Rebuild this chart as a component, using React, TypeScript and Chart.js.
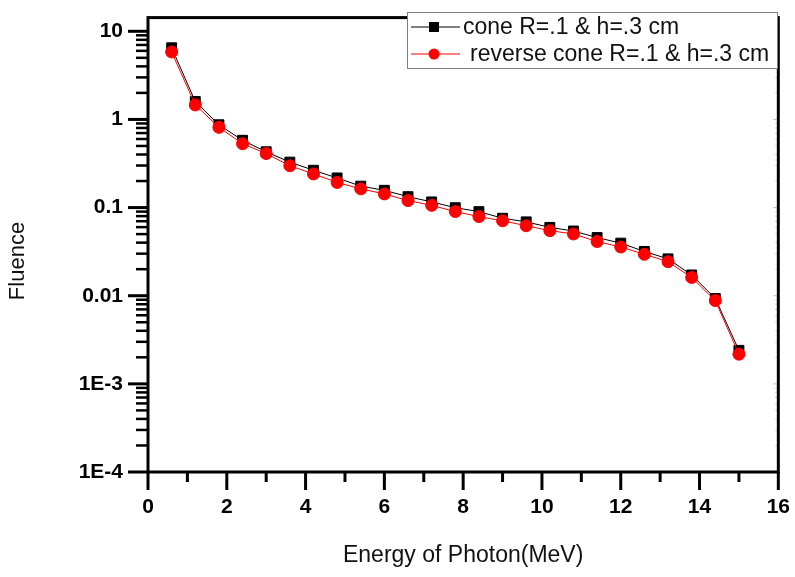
import React, { useEffect, useRef } from "react";
import { Chart, registerables } from "chart.js";

Chart.register(...registerables);

const energies = [0.6, 1.2, 1.8, 2.4, 3.0, 3.6, 4.2, 4.8, 5.4, 6.0, 6.6, 7.2, 7.8, 8.4, 9.0, 9.6, 10.2, 10.8, 11.4, 12.0, 12.6, 13.2, 13.8, 14.4, 15.0];
const coneFluence = [6.5, 1.6, 0.87, 0.58, 0.43, 0.328, 0.265, 0.217, 0.175, 0.157, 0.133, 0.116, 0.0997, 0.09, 0.0757, 0.0689, 0.0596, 0.0542, 0.0457, 0.0395, 0.0318, 0.0262, 0.0172, 0.0093, 0.0024];
const reverseConeFluence = [5.83, 1.46, 0.813, 0.53, 0.41, 0.298, 0.241, 0.193, 0.163, 0.143, 0.12, 0.106, 0.09, 0.079, 0.0708, 0.0622, 0.0547, 0.0502, 0.0412, 0.0357, 0.0295, 0.0243, 0.0161, 0.0088, 0.00217];

const seriesLabels = ["cone R=.1 & h=.3 cm", "reverse cone R=.1 & h=.3 cm"];
const seriesColors = ["#000000", "#ff0000"];

const xMin = 0;
const xMax = 16;
const xMajorStep = 2;
const yMin = 1e-4;
const yMax = 14.3;
const yTickValues = [1e-4, 1e-3, 0.01, 0.1, 1, 10];
const yTickLabels = ["1E-4", "1E-3", "0.01", "0.1", "1", "10"];

const xTitle = "Energy of Photon(MeV)";
const yTitle = "Fluence";

const FONT = "'Liberation Sans', Arial, Helvetica, sans-serif";

const framePlugin = {
  id: "originFrame",
  afterDraw(chart: any) {
    const { ctx, chartArea, scales } = chart;
    const { left, right, top, bottom } = chartArea;
    const xs = scales.x;
    const ys = scales.y;
    ctx.save();
    ctx.strokeStyle = "#000";
    ctx.lineCap = "butt";

    // x ticks (major + minor), outward
    for (let v = xMin; v <= xMax; v += 1) {
      const px = xs.getPixelForValue(v);
      const major = v % xMajorStep === 0;
      ctx.lineWidth = 3;
      ctx.beginPath();
      ctx.moveTo(px, bottom);
      ctx.lineTo(px, bottom + (major ? 18 : 10));
      ctx.stroke();
    }

    // y ticks (log major + minor), outward; faint inward on right
    for (let n = -4; n <= 1; n++) {
      for (let k = 1; k <= 9; k++) {
        const val = k * Math.pow(10, n);
        if (val < yMin * 0.999 || val > yMax) continue;
        const py = ys.getPixelForValue(val);
        ctx.strokeStyle = "#000";
        ctx.lineWidth = k === 1 ? 3 : 2.5;
        ctx.beginPath();
        ctx.moveTo(left, py);
        ctx.lineTo(left - (k === 1 ? 20 : 12), py);
        ctx.stroke();
        ctx.strokeStyle = "rgba(0,0,0,0.25)";
        ctx.lineWidth = 1;
        ctx.beginPath();
        ctx.moveTo(right, py);
        ctx.lineTo(right - (k === 1 ? 5 : 3), py);
        ctx.stroke();
      }
    }

    // frame
    ctx.strokeStyle = "#000";
    ctx.lineWidth = 3;
    ctx.strokeRect(left, top, right - left, bottom - top);

    // y title
    ctx.fillStyle = "#111";
    ctx.font = `22px ${FONT}`;
    ctx.textAlign = "center";
    ctx.textBaseline = "middle";
    ctx.save();
    ctx.translate(18, 261);
    ctx.rotate(-Math.PI / 2);
    ctx.fillText(yTitle, 0, 0);
    ctx.restore();

    // legend
    const lx = 407.5;
    const ly = 12.5;
    const lw = 370;
    const lh = 56;
    ctx.fillStyle = "#fff";
    ctx.fillRect(lx, ly, lw, lh);
    ctx.strokeStyle = "#808080";
    ctx.lineWidth = 1;
    ctx.strokeRect(lx, ly, lw, lh);
    const rows = [27, 54];
    const textX = [463, 470];
    rows.forEach((ry, i) => {
      const color = seriesColors[i];
      ctx.strokeStyle = color;
      ctx.lineWidth = 1;
      ctx.beginPath();
      ctx.moveTo(411, ry);
      ctx.lineTo(460, ry);
      ctx.stroke();
      ctx.fillStyle = color;
      if (i === 0) {
        ctx.fillRect(429, ry - 5, 10, 10);
      } else {
        ctx.beginPath();
        ctx.arc(434, ry, 5.5, 0, Math.PI * 2);
        ctx.fill();
      }
      ctx.fillStyle = "#111";
      ctx.font = `23px ${FONT}`;
      ctx.textAlign = "left";
      ctx.textBaseline = "middle";
      ctx.fillText(seriesLabels[i], textX[i], ry + 1);
    });

    ctx.restore();
  },
};

export default function App() {
  const canvasRef = useRef<HTMLCanvasElement>(null);

  useEffect(() => {
    const canvas = canvasRef.current;
    if (!canvas) return;
    const chart = new Chart(canvas, {
      type: "line",
      data: {
        datasets: [
          {
            label: seriesLabels[1],
            data: energies.map((e, i) => ({ x: e, y: reverseConeFluence[i] })),
            borderColor: seriesColors[1],
            backgroundColor: seriesColors[1],
            borderWidth: 1,
            pointStyle: "circle",
            pointRadius: 6,
            pointBorderWidth: 1,
            order: 0,
          },
          {
            label: seriesLabels[0],
            data: energies.map((e, i) => ({ x: e, y: coneFluence[i] })),
            borderColor: seriesColors[0],
            backgroundColor: seriesColors[0],
            borderWidth: 1,
            pointStyle: "rect",
            pointRadius: 7,
            pointBorderWidth: 1,
            order: 1,
          },
        ],
      },
      options: {
        responsive: false,
        animation: false,
        devicePixelRatio: 1,
        layout: { padding: { top: 10, right: 13, left: 0, bottom: 0 } },
        plugins: {
          legend: { display: false },
          tooltip: { enabled: false },
        },
        scales: {
          x: {
            type: "linear",
            min: xMin,
            max: xMax,
            border: { display: false },
            grid: { display: true, drawOnChartArea: false, drawTicks: true, tickLength: 18, tickColor: "rgba(0,0,0,0)" },
            ticks: {
              stepSize: xMajorStep,
              padding: 5,
              color: "#000",
              font: { family: FONT, size: 21, weight: "bold" },
              maxRotation: 0,
            },
            title: {
              display: true,
              text: xTitle,
              color: "#111",
              font: { family: FONT, size: 23 },
              padding: { top: 0, bottom: 8 },
            },
            afterFit(scale: any) {
              scale.height = 105;
            },
          },
          y: {
            type: "logarithmic",
            min: yMin,
            max: yMax,
            border: { display: false },
            grid: { display: true, drawOnChartArea: false, drawTicks: true, tickLength: 20, tickColor: "rgba(0,0,0,0)" },
            ticks: {
              padding: 5,
              color: "#000",
              font: { family: FONT, size: 21, weight: "bold" },
              callback: (value: any) => {
                const i = yTickValues.findIndex((v) => Math.abs(v - value) / v < 1e-9);
                return i >= 0 ? yTickLabels[i] : "";
              },
            },
            afterBuildTicks(scale: any) {
              scale.ticks = yTickValues.map((v) => ({ value: v }));
            },
            afterFit(scale: any) {
              scale.width = 148;
            },
          },
        },
      },
      plugins: [framePlugin],
    } as any);
    return () => chart.destroy();
  }, []);

  return (
    <div style={{ position: "absolute", left: 0, top: 0, width: 795, height: 577, background: "#fff" }}>
      <canvas ref={canvasRef} width={795} height={577} style={{ display: "block" }} />
    </div>
  );
}
